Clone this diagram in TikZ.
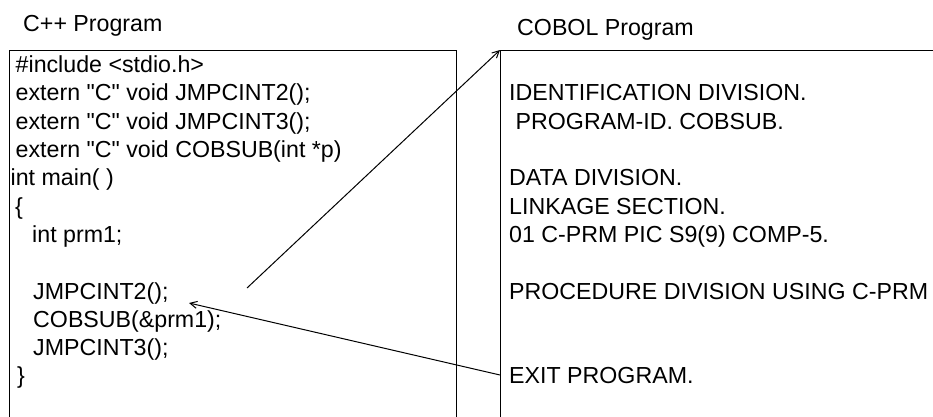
\documentclass[tikz,border=0pt]{standalone}
\usepackage{fontspec}
\setmainfont{Liberation Sans}[Ligatures=TeXOff]
\usetikzlibrary{arrows.meta}
\begin{document}
\begin{tikzpicture}[x=1pt,y=-1pt,
  txt/.style={anchor=base west, inner sep=0pt, font=\fontsize{23.2}{28}\selectfont},
  box/.style={draw, line width=1.3pt, anchor=north west, inner sep=0pt},
  link/.style={line width=1pt, -{Straight Barb[length=7pt,width=7pt]}}]
\useasboundingbox (0,0) rectangle (933,416);
\clip (0,0) rectangle (933,416);
% boxes (they run past the lower and right edges)
\node[box, minimum width=447pt, minimum height=420pt] (cbox) at (9,50) {};
\node[box, minimum width=460pt, minimum height=420pt] (obox) at (500,50) {};
% titles
\node[txt] (ctitle) at (23,31.5) {C++ Program};
\node[txt] (otitle) at (517,35) {COBOL Program};
% C++ program text
\node[txt] (c1) at (15.5,72.5) {\#include <stdio.h>};
\node[txt] (c2) at (15.5,100.8) {extern "C" void JMPCINT2();};
\node[txt] (c3) at (15.5,129.1) {extern "C" void JMPCINT3();};
\node[txt] (c4) at (15.5,157.4) {extern "C" void COBSUB(int *p)};
\node[txt] (c5) at (10.5,185.7) {int main( )};
\node[txt] (c6) at (15,214.0) {\{};
\node[txt] (c7) at (32,242.3) {int prm1;};
\node[txt] (c9) at (33,299.5) {JMPCINT2();};
\node[txt] (c10) at (33,327.2) {COBSUB(\&prm1);};
\node[txt] (c11) at (33,355.5) {JMPCINT3();};
\node[txt] (c12) at (17,383.8) {\}};
% COBOL program text
\node[txt] (o2) at (509,100.8) {IDENTIFICATION DIVISION.};
\node[txt] (o3) at (515.5,129.1) {PROGRAM-ID. COBSUB.};
\node[txt] (o5) at (509,185.7) {DATA DIVISION.};
\node[txt] (o6) at (509,214.0) {LINKAGE SECTION.};
\node[txt] (o7) at (509,242.3) {01 C-PRM PIC S9(9) COMP-5.};
\node[txt] (o9) at (509,299.5) {PROCEDURE DIVISION USING C-PRM};
\node[txt] (o12) at (509,383.8) {EXIT PROGRAM.};
% connectors
\coordinate (callpt) at (247,288);
\coordinate (exitpt) at (500,375);
\coordinate (retpt) at (189,303);
\draw[link] (callpt) -- (obox.north west);
\draw[link] (exitpt) -- (retpt);
\end{tikzpicture}
\end{document}
